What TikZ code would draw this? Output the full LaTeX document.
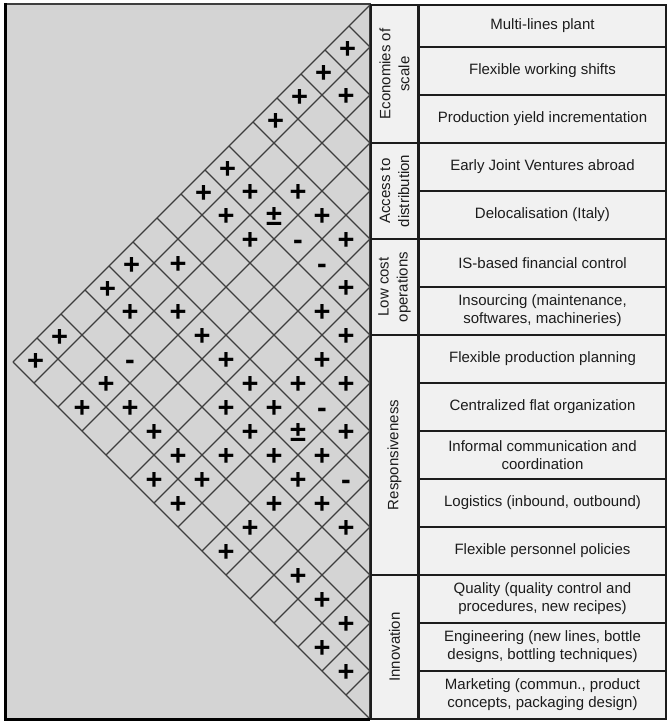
\documentclass[tikz,border=0pt]{standalone}
\usepackage{fontspec}
\setmainfont{Liberation Sans}
\usetikzlibrary{positioning}
\definecolor{panel}{RGB}{212,212,212}
\definecolor{boxfill}{RGB}{241,241,241}
\definecolor{ink}{RGB}{28,28,28}
\definecolor{wire}{RGB}{62,62,62}
\tikzset{
  itembox/.style={draw=ink, line width=1.8pt, fill=boxfill, inner sep=0pt,
              minimum width=247pt, align=center, text=ink,
              font=\fontsize{15}{18}\selectfont},
  catbox/.style={draw=ink, line width=1.8pt, fill=boxfill, inner sep=0pt,
              minimum height=47pt, rotate=90, align=center, text=ink,
              font=\fontsize{15}{19}\selectfont},
  sign/.style={inner sep=0pt, text height=20.4pt, text depth=0pt, text=black,
              font=\fontsize{29}{29}\selectfont\bfseries},
  gridline/.style={wire, line width=1.1pt},
}

\begin{document}
\begin{tikzpicture}[x=1pt, y=-1pt]
        \useasboundingbox (0,0) rectangle (668,724);
        % ===================== roof panel =====================
        \fill[panel] (5,4) rectangle (370,719);
        \foreach \k in {0,...,15} {
          \pgfmathsetmacro\b{\k==0 ? 5 : 48*\k-1}
          \draw[gridline] ({370-(719-\b)/2},{(\b+719)/2}) -- (370,\b) -- ({370-(\b-5)/2},{(\b+5)/2});
        }
        \draw[wire, line width=1.2pt] (5,4) -- (370,4) -- (370,719);
        \draw[black, line width=3pt] (5.5,3) -- (5.5,720);
        \draw[black, line width=2.5pt] (4,719.5) -- (370,719.5);
        % ===================== correlations =====================
        \foreach \i/\j/\s in {0/1/+, 0/2/+, 0/3/+, 1/2/+, 0/4/+, 0/6/+, 0/7/+, 1/6/+,
            2/5/+, 1/7/+, 2/6/±, 3/5/+, 2/7/+, 3/6/-, 4/5/+, 0/10/+, 1/9/+, 4/6/-,
            0/11/+, 5/6/+, 1/11/+, 2/10/+, 5/7/+, 0/13/+, 3/10/+, 6/7/+, 0/14/+,
            2/12/-, 4/10/+, 6/8/+, 2/13/+, 5/10/+, 6/9/+, 7/8/+, 2/14/+, 3/13/+,
            5/11/+, 6/10/+, 7/9/-, 4/13/+, 6/11/+, 7/10/±, 8/9/+, 5/13/+, 6/12/+,
            7/11/+, 8/10/+, 5/14/+, 6/13/+, 8/11/+, 9/10/-, 6/14/+, 8/12/+, 9/11/+,
            8/13/+, 10/11/+, 8/14/+, 10/13/+, 11/13/+, 12/13/+, 12/14/+, 13/14/+} {
          \pgfmathsetmacro\ya{\i==0 ? 26 : 23+48*\i}
          \pgfmathsetmacro\yb{23+48*\j}
          \node[sign] (s\i-\j) at ({370-(\yb-\ya)/2},{(\ya+\yb)/2}) {\s};
        }
        % ===================== strategy groups =====================
        \node[catbox, minimum width=138pt] (scale)  at (394.5,74)  {Economies of\\scale};
        \node[catbox, minimum width=96pt]  (access) at (394.5,191) {Access to\\distribution};
        \node[catbox, minimum width=96pt]  (lowcost) at (394.5,287) {Low cost\\operations};
        \node[catbox, minimum width=240pt] (respons) at (394.5,455) {Responsiveness};
        \node[catbox, minimum width=144pt] (innov)  at (394.5,647) {Innovation};
        % ===================== practices =====================
        \node[itembox, minimum height=42pt] (p0)  at (542.5,26)  {Multi-lines plant};
        \node[itembox, minimum height=48pt] (p1)  at (542.5,71)  {Flexible working shifts};
        \node[itembox, minimum height=48pt] (p2)  at (542.5,119) {Production yield incrementation};
        \node[itembox, minimum height=48pt] (p3)  at (542.5,167) {Early Joint Ventures abroad};
        \node[itembox, minimum height=48pt] (p4)  at (542.5,215) {Delocalisation (Italy)};
        \node[itembox, minimum height=48pt] (p5)  at (542.5,263) {IS-based financial control};
        \node[itembox, minimum height=48pt] (p6)  at (542.5,311) {Insourcing (maintenance,\\softwares, machineries)};
        \node[itembox, minimum height=48pt] (p7)  at (542.5,359) {Flexible production planning};
        \node[itembox, minimum height=48pt] (p8)  at (542.5,407) {Centralized flat organization};
        \node[itembox, minimum height=48pt] (p9)  at (542.5,455) {Informal communication and\\coordination};
        \node[itembox, minimum height=48pt] (p10) at (542.5,503) {Logistics (inbound, outbound)};
        \node[itembox, minimum height=48pt] (p11) at (542.5,551) {Flexible personnel policies};
        \node[itembox, minimum height=48pt] (p12) at (542.5,599) {Quality (quality control and\\procedures, new recipes)};
        \node[itembox, minimum height=48pt] (p13) at (542.5,647) {Engineering (new lines, bottle\\designs, bottling techniques)};
        \node[itembox, minimum height=48pt] (p14) at (542.5,695) {Marketing (commun., product\\concepts, packaging design)};
      \end{tikzpicture}
\end{document}
